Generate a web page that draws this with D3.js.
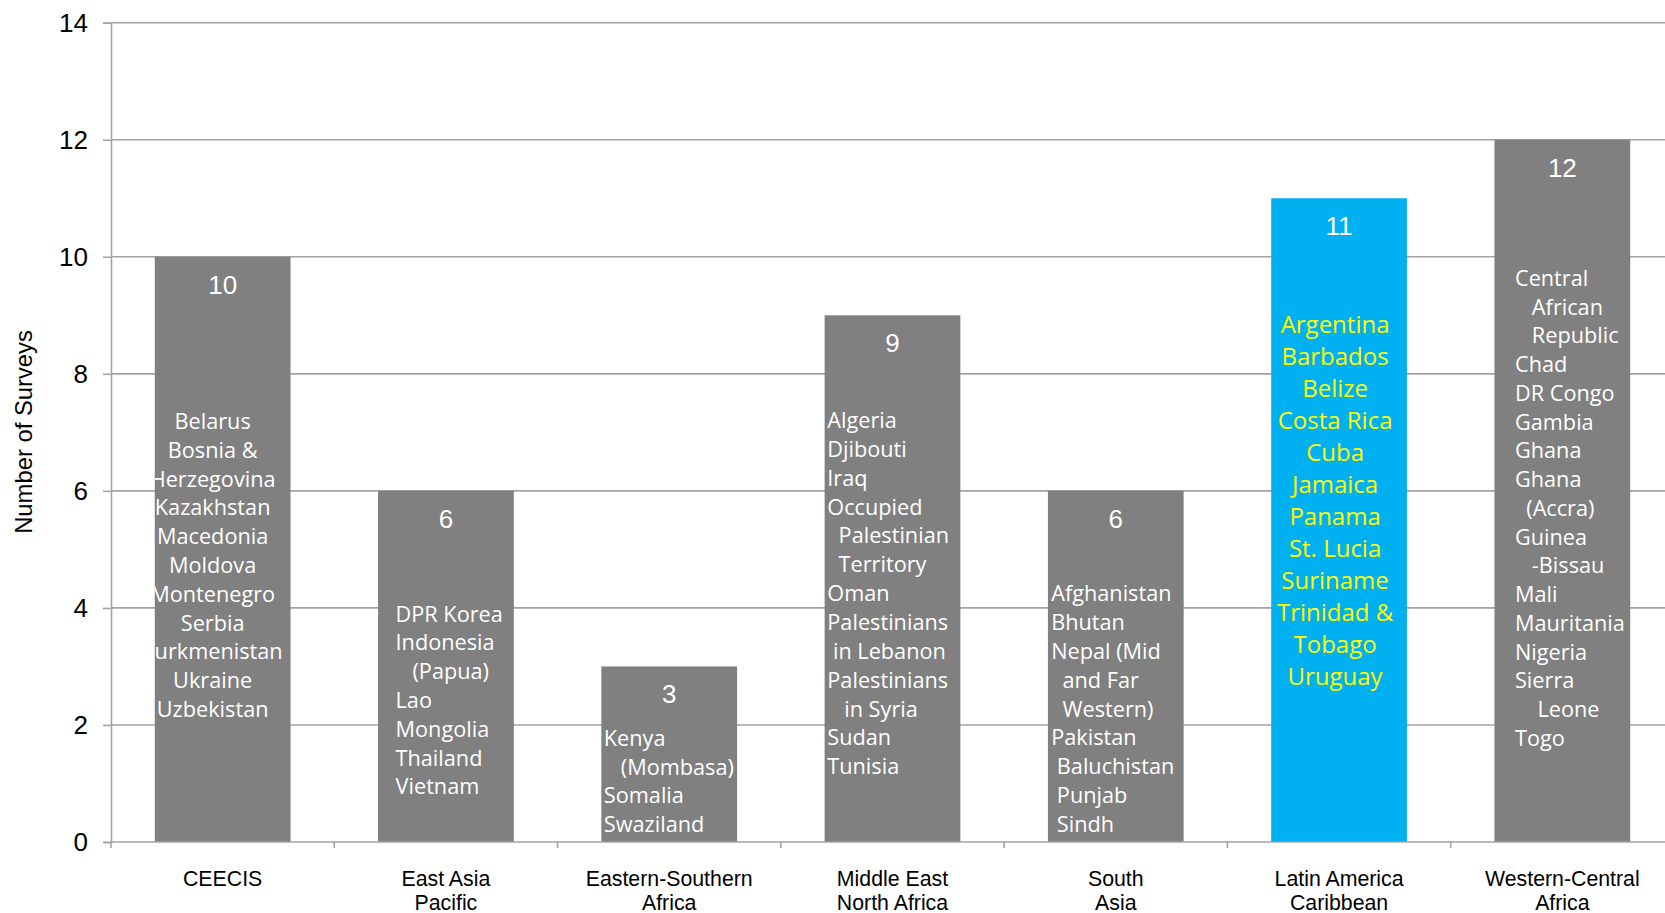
<!DOCTYPE html>
<html>
<head>
<meta charset="utf-8">
<script src="https://cdn.jsdelivr.net/npm/d3@7"></script>
<style>
  html, body { margin: 0; padding: 0; background: #fff; }
  svg { display: block; }
  .clist { white-space: pre; }
</style>
</head>
<body>
<svg id="chart" width="1665" height="913"></svg>
<script>
// ---------- data ----------
const categories = [
  "CEECIS",
  "East Asia\nPacific",
  "Eastern-Southern\nAfrica",
  "Middle East\nNorth Africa",
  "South\nAsia",
  "Latin America\nCaribbean",
  "Western-Central\nAfrica"
];
const surveys = [10, 6, 3, 9, 6, 11, 12];
const highlighted = "Latin America\nCaribbean";
const yTicks = [0, 2, 4, 6, 8, 10, 12, 14];
const yTitle = "Number of Surveys";

const ceecisCountries = ["Belarus", "Bosnia &", "Herzegovina", "Kazakhstan", "Macedonia", "Moldova",
  "Montenegro", "Serbia", "Turkmenistan", "Ukraine", "Uzbekistan"];
const eapCountries = ["DPR Korea", "Indonesia", "   (Papua)", "Lao", "Mongolia", "Thailand", "Vietnam"];
const esaCountries = ["Kenya", "   (Mombasa)", "Somalia", "Swaziland"];
const menaCountries = ["Algeria", "Djibouti", "Iraq", "Occupied", "  Palestinian", "  Territory", "Oman",
  "Palestinians", " in Lebanon", "Palestinians", "   in Syria", "Sudan", "Tunisia"];
const saCountries = ["Afghanistan", "Bhutan", "Nepal (Mid", "  and Far", "  Western)", "Pakistan",
  " Baluchistan", " Punjab", " Sindh"];
const lacCountries = ["Argentina", "Barbados", "Belize", "Costa Rica", "Cuba", "Jamaica", "Panama",
  "St. Lucia", "Suriname", "Trinidad &", "Tobago", "Uruguay"];
const wcaCountries = ["Central", "   African", "   Republic", "Chad", "DR Congo", "Gambia", "Ghana", "Ghana",
  "  (Accra)", "Guinea", "   -Bissau", "Mali", "Mauritania", "Nigeria", "Sierra", "    Leone", "Togo"];
const countryLists = [ceecisCountries, eapCountries, esaCountries, menaCountries, saCountries, lacCountries, wcaCountries];

// ---------- label layout (positions / styles only) ----------
const labelLayout = [
  { align: "middle", dx: -10, y0: 429, lh: 28.8 },
  { align: "start",  dx: 17.5, y0: 621.5, lh: 28.8 },
  { align: "start",  dx: 2.5, y0: 746, lh: 28.7 },
  { align: "start",  dx: 2.7, y0: 428, lh: 28.85 },
  { align: "start",  dx: 3.3, y0: 601.3, lh: 28.8 },
  { align: "middle", dx: -4, y0: 333.3, lh: 31.95 },
  { align: "start",  dx: 20.5, y0: 286, lh: 28.74 }
];

// ---------- chart ----------
const svg = d3.select("#chart");
const plotLeft = 111, plotRight = 1674, plotTop = 22.7, plotBottom = 842;
const gridColor = "#a3a3a3";

const x = d3.scaleBand().domain(categories).range([plotLeft, plotRight]).paddingInner(0.392).paddingOuter(0.196);
const y = d3.scaleLinear().domain([0, 14]).range([plotBottom, plotTop]);

// gridlines + y axis
const yAxis = d3.axisLeft(y).tickValues(yTicks).tickSize(8).tickPadding(15).tickFormat(d3.format("d"));
const gy = svg.append("g").attr("transform", `translate(${plotLeft},0)`).call(yAxis);
gy.select(".domain").attr("stroke", gridColor).attr("stroke-width", 1.6);
gy.selectAll(".tick line").attr("stroke", gridColor).attr("stroke-width", 1.6);
gy.selectAll(".tick text").attr("font-family", "Liberation Sans, Arial, sans-serif").attr("font-size", 26).attr("fill", "#000");

svg.append("g").selectAll("line").data(yTicks.filter(d => d > 0)).join("line")
  .attr("x1", plotLeft).attr("x2", 1665)
  .attr("y1", d => y(d)).attr("y2", d => y(d))
  .attr("stroke", gridColor).attr("stroke-width", 1.6);

// y title
svg.append("text")
  .attr("transform", `translate(31.5,432) rotate(-90)`)
  .attr("text-anchor", "middle")
  .attr("font-family", "Liberation Sans, Arial, sans-serif")
  .attr("font-size", 23.8)
  .text(yTitle);

// bars
const defs = svg.append("defs");
categories.forEach((c, i) => {
  defs.append("clipPath").attr("id", "clip" + i).append("rect")
    .attr("x", x(c)).attr("y", y(surveys[i])).attr("width", x.bandwidth()).attr("height", y(0) - y(surveys[i]));
});

svg.append("g").selectAll("rect").data(categories).join("rect")
  .attr("x", d => x(d))
  .attr("y", (d, i) => y(surveys[i]))
  .attr("width", x.bandwidth())
  .attr("height", (d, i) => y(0) - y(surveys[i]))
  .attr("fill", d => d === highlighted ? "#00B0F0" : "#808080");

// x axis
const xAxis = d3.axisBottom(x).tickSize(0).tickFormat("");
const gx = svg.append("g").attr("transform", `translate(0,${plotBottom})`).call(xAxis);
gx.select(".domain").attr("stroke", gridColor).attr("stroke-width", 1.6).attr("d", `M${plotLeft},0H1665`);
// category boundary ticks
const bounds = d3.range(categories.length + 1).map(i => plotLeft + i * x.step());
svg.append("g").selectAll("line").data(bounds).join("line")
  .attr("x1", d => d).attr("x2", d => d)
  .attr("y1", plotBottom).attr("y2", plotBottom + 6)
  .attr("stroke", gridColor).attr("stroke-width", 1.6);

// category labels
const catG = svg.append("g").selectAll("text").data(categories).join("text")
  .attr("text-anchor", "middle")
  .attr("font-family", "Liberation Sans, Arial, sans-serif")
  .attr("font-size", 21.3)
  .attr("fill", "#000");
catG.each(function (d) {
  const t = d3.select(this);
  const cx = x(d) + x.bandwidth() / 2;
  d.split("\n").forEach((line, k) => {
    t.append("tspan").attr("x", cx).attr("y", 885.5 + k * 24.5).text(line);
  });
});

// value labels
svg.append("g").selectAll("text").data(categories).join("text")
  .attr("x", d => x(d) + x.bandwidth() / 2)
  .attr("y", (d, i) => y(surveys[i]) + 37)
  .attr("text-anchor", "middle")
  .attr("font-family", "Liberation Sans, Arial, sans-serif")
  .attr("font-size", 26)
  .attr("fill", "#fff")
  .text((d, i) => surveys[i]);

// country lists
categories.forEach((c, i) => {
  const L = labelLayout[i];
  const isHi = c === highlighted;
  const xPos = L.align === "middle" ? x(c) + x.bandwidth() / 2 + L.dx : x(c) + L.dx;
  const t = svg.append("text")
    .attr("class", "clist")
    .attr("clip-path", `url(#clip${i})`)
    .attr("text-anchor", L.align)
    .attr("font-family", "Open Sans, sans-serif")
    .attr("font-size", isHi ? 24 : 21.7)
    .attr("fill", isHi ? "#FFFF00" : "#fff");
  countryLists[i].forEach((name, k) => {
    t.append("tspan").attr("x", xPos).attr("y", L.y0 + k * L.lh).text(name);
  });
});
</script>
</body>
</html>
